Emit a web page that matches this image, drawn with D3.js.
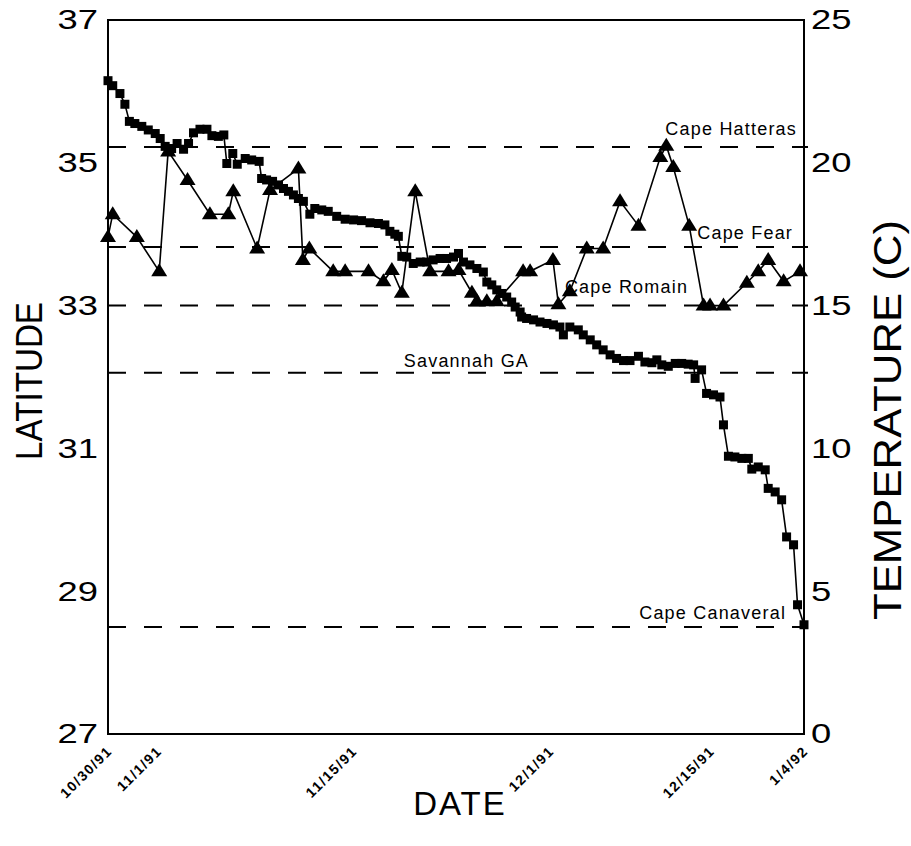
<!DOCTYPE html>
<html>
<head>
<meta charset="utf-8">
<script src="https://cdn.jsdelivr.net/npm/d3@7"></script>
<style>
  body { margin: 0; background: #fff; }
  text { font-family: "Liberation Sans", Arial, sans-serif; fill: #000; }
</style>
</head>
<body>
<div id="chart"></div>
<script>
// observation index along the x axis (sample number), latitude of each fix
const latX = [0, 0.95, 2.4, 3.4, 4.3, 5.4, 6.8, 8.1, 9.5, 10.5, 11.5, 12.8, 13.9, 15.2, 16.2, 17.2, 18.5, 19.9,
  20.9, 22.2, 23.3, 23.9, 25.1, 26.0, 27.6, 28.9, 30.4, 30.9, 31.9, 33.1, 34.3, 35.3, 36.3, 37.3, 38.3, 39.3,
  40.6, 41.6, 43.0, 44.3, 46.0, 47.7, 49.4, 51.0, 52.7, 54.4, 55.7, 56.7, 57.7, 58.4, 59.1, 60.1, 61.4, 62.8,
  64.1, 65.4, 66.8, 68.1, 69.5, 70.5, 71.5, 72.8, 74.2, 75.5, 76.2, 77.2, 78.2, 79.2, 80.2, 81.2, 81.9, 82.9,
  83.2, 84.2, 85.6, 86.9, 88.3, 89.6, 90.9, 91.6, 92.9, 94.6, 95.6, 97.0, 98.3, 99.6, 101.0, 102.3, 103.7,
  105.0, 106.7, 108.0, 109.4, 110.4, 111.4, 112.7, 114.1, 115.4, 116.7, 117.8, 118.1, 119.4, 120.4, 121.8,
  123.1, 123.8, 124.8, 126.1, 127.5, 128.8, 129.5, 130.8, 132.2, 132.8, 134.2, 135.5, 136.5, 137.9, 138.7, 140];
const latitude = [36.15, 36.08, 35.97, 35.82, 35.58, 35.55, 35.51, 35.46, 35.41, 35.34, 35.23, 35.20, 35.27,
  35.19, 35.27, 35.42, 35.47, 35.47, 35.38, 35.37, 35.39, 34.99, 35.13, 34.98, 35.06, 35.04, 35.02, 34.78,
  34.76, 34.74, 34.69, 34.64, 34.60, 34.55, 34.50, 34.46, 34.28, 34.36, 34.34, 34.32, 34.25, 34.21, 34.20,
  34.19, 34.16, 34.15, 34.13, 34.04, 34.00, 33.97, 33.69, 33.68, 33.59, 33.61, 33.61, 33.64, 33.66, 33.66,
  33.68, 33.73, 33.61, 33.57, 33.52, 33.47, 33.33, 33.29, 33.22, 33.17, 33.12, 33.05, 32.98, 32.91, 32.84,
  32.82, 32.80, 32.77, 32.75, 32.73, 32.70, 32.59, 32.70, 32.66, 32.59, 32.52, 32.45, 32.38, 32.31, 32.26,
  32.23, 32.23, 32.29, 32.21, 32.20, 32.24, 32.17, 32.15, 32.19, 32.19, 32.18, 32.17, 31.98, 32.10, 31.77,
  31.75, 31.72, 31.33, 30.89, 30.88, 30.86, 30.86, 30.71, 30.74, 30.70, 30.44, 30.39, 30.28, 29.76, 29.65,
  28.81, 28.53];

// water temperature readings (C)
const tempX = [0, 0.95, 5.8, 10.3, 12.1, 16.0, 20.5, 24.2, 25.2, 30.0, 32.6, 38.3, 39.2, 40.5, 45.3, 47.7,
  52.4, 55.4, 57.1, 59.1, 61.8, 64.8, 68.5, 70.5, 73.2, 74.2, 76.2, 78.2, 83.5, 84.9, 89.5, 90.6, 92.9,
  96.3, 99.6, 103.0, 106.7, 111.1, 112.3, 113.7, 116.9, 119.8, 121.1, 123.8, 128.5, 130.8, 132.8, 135.9, 139.2];
const temperature = [17.4, 18.2, 17.4, 16.2, 20.4, 19.4, 18.2, 18.2, 19.0, 17.0, 19.05, 19.8, 16.6, 17.0,
  16.2, 16.2, 16.2, 15.85, 16.25, 15.45, 19.0, 16.2, 16.2, 16.25, 15.45, 15.15, 15.15, 15.15, 16.2, 16.2,
  16.6, 15.05, 15.5, 17.0, 17.0, 18.65, 17.8, 20.2, 20.6, 19.85, 17.8, 15.0, 15.0, 15.0, 15.8, 16.2, 16.6,
  15.85, 16.2];

// reference latitudes along the coast
const places = ["Cape Hatteras", "Cape Fear", "Cape Romain", "Savannah GA", "Cape Canaveral"];
const placeLat = [35.22, 33.82, 33.0, 32.06, 28.5];

// x axis labels and where they sit on the sample scale
const dateLabels = ["10/30/91", "11/1/91", "11/15/91", "12/1/91", "12/15/91", "1/4/92"];
const dateTicks = [0, 10, 49.3, 88.9, 121.2, 140];

const latTicks = [27, 29, 31, 33, 35, 37];
const tempTicks = [0, 5, 10, 15, 20, 25];

const W = 911, H = 846;
const margin = { top: 20, right: 107, bottom: 112, left: 108 };

const svg = d3.select("#chart").append("svg")
  .attr("width", W)
  .attr("height", H);

const x = d3.scaleLinear().domain([0, 140]).range([margin.left, W - margin.right]);
const yLat = d3.scaleLinear().domain([27, 37]).range([H - margin.bottom, margin.top]);
const yTemp = d3.scaleLinear().domain([0, 25]).range([H - margin.bottom, margin.top]);

// dashed lines for the landmarks
const refs = svg.append("g");
refs.selectAll("line")
  .data(placeLat)
  .enter().append("line")
  .attr("x1", x(0))
  .attr("x2", x(140) + 4)
  .attr("y1", d => yLat(d))
  .attr("y2", d => yLat(d))
  .attr("stroke", "#000")
  .attr("stroke-width", 2)
  .attr("stroke-dasharray", "18,18");

// label placement: right end (sample units) and raise above the line (px)
const labelEnd = [138.6, 137.8, 116.7, 84.7, 136.4];
const labelRaise = [12, 8, 13, 6, 8];
refs.selectAll("text")
  .data(places)
  .enter().append("text")
  .attr("x", (d, i) => x(labelEnd[i]))
  .attr("y", (d, i) => yLat(placeLat[i]) - labelRaise[i])
  .attr("text-anchor", "end")
  .style("font-size", "18px")
  .style("letter-spacing", "1.2px")
  .text(d => d);

// frame
svg.append("rect")
  .attr("x", x(0))
  .attr("y", yLat(37))
  .attr("width", x(140) - x(0))
  .attr("height", yLat(27) - yLat(37))
  .attr("fill", "none")
  .attr("stroke", "#000")
  .attr("stroke-width", 2);

// tick numbers are drawn a bit wider than the normal font
const stretch = 1.3;

// left axis (latitude)
const leftAxis = svg.append("g")
  .attr("transform", `translate(${x(0)},0)`)
  .call(d3.axisLeft(yLat).tickValues(latTicks).tickSize(0));
leftAxis.select(".domain").remove();
leftAxis.selectAll("text")
  .attr("x", -10 / stretch)
  .attr("transform", `scale(${stretch},1)`)
  .style("font-size", "28px")
  .style("font-family", "'Liberation Sans', Arial, sans-serif");

// right axis (temperature)
const rightAxis = svg.append("g")
  .attr("transform", `translate(${x(140)},0)`)
  .call(d3.axisRight(yTemp).tickValues(tempTicks).tickSize(0));
rightAxis.select(".domain").remove();
rightAxis.selectAll("text")
  .attr("x", 7 / stretch)
  .attr("transform", `scale(${stretch},1)`)
  .style("font-size", "28px")
  .style("font-family", "'Liberation Sans', Arial, sans-serif");

// date labels, slanted
svg.append("g").selectAll("text")
  .data(dateLabels)
  .enter().append("text")
  .attr("transform", (d, i) => `translate(${x(dateTicks[i]) + 5},${yLat(27) + 18}) rotate(-45)`)
  .attr("text-anchor", "end")
  .style("font-size", "14px")
  .style("font-weight", "bold")
  .style("letter-spacing", "1.5px")
  .text(d => d);

// axis titles (tall, condensed lettering)
svg.append("text")
  .attr("transform", `translate(42,${(yLat(27) + yLat(37)) / 2 + 4}) rotate(-90)`)
  .attr("text-anchor", "middle")
  .attr("textLength", 158)
  .attr("lengthAdjust", "spacingAndGlyphs")
  .style("font-size", "37px")
  .text("LATITUDE");

svg.append("text")
  .attr("transform", `translate(901,420) rotate(-90)`)
  .attr("text-anchor", "middle")
  .attr("textLength", 400)
  .attr("lengthAdjust", "spacingAndGlyphs")
  .style("font-size", "39px")
  .text("TEMPERATURE (C)");

svg.append("text")
  .attr("x", 460)
  .attr("y", 815)
  .attr("text-anchor", "middle")
  .style("font-size", "33px")
  .style("letter-spacing", "2px")
  .text("DATE");

// latitude track with square markers
const latData = latX.map((d, i) => ({ x: d, y: latitude[i] }));
svg.append("path")
  .datum(latData)
  .attr("fill", "none")
  .attr("stroke", "#000")
  .attr("stroke-width", 1.6)
  .attr("d", d3.line().x(d => x(d.x)).y(d => yLat(d.y)));
svg.append("g").selectAll("rect")
  .data(latData)
  .enter().append("rect")
  .attr("x", d => x(d.x) - 4.5)
  .attr("y", d => yLat(d.y) - 4.5)
  .attr("width", 9)
  .attr("height", 9)
  .attr("fill", "#000");

// temperature with triangle markers
const tempData = tempX.map((d, i) => ({ x: d, y: temperature[i] }));
svg.append("path")
  .datum(tempData)
  .attr("fill", "none")
  .attr("stroke", "#000")
  .attr("stroke-width", 1.6)
  .attr("d", d3.line().x(d => x(d.x)).y(d => yTemp(d.y)));
svg.append("g").selectAll("path")
  .data(tempData)
  .enter().append("path")
  .attr("transform", d => `translate(${x(d.x)},${yTemp(d.y)})`)
  .attr("d", "M0,-8L8,5L-8,5Z")
  .attr("fill", "#000");
</script>
</body>
</html>
